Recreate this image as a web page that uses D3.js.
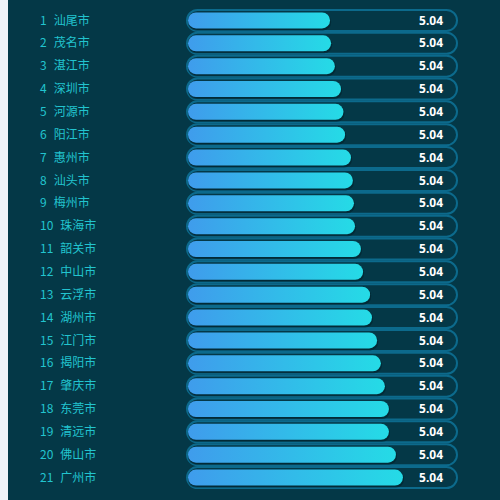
<!DOCTYPE html>
<html><head><meta charset="utf-8">
<script src="https://cdn.jsdelivr.net/npm/d3@7/dist/d3.min.js"></script>
<style>html,body{margin:0;padding:0;background:#f0f2f7;}svg{display:block}</style>
</head><body><svg id="c" width="500" height="500"></svg>
<script>
const cities = ["汕尾市","茂名市","湛江市","深圳市","河源市","阳江市","惠州市","汕头市","梅州市","珠海市","韶关市","中山市","云浮市","湖州市","江门市","揭阳市","肇庆市","东莞市","清远市","佛山市","广州市"];
const values = [52.8,53.2,54.6,56.9,57.8,58.4,60.6,61.3,61.7,62.1,64.3,65.1,67.7,68.4,70.3,71.7,73.2,74.7,74.7,77.3,79.9];
const valueLabels = ["5.04","5.04","5.04","5.04","5.04","5.04","5.04","5.04","5.04","5.04","5.04","5.04","5.04","5.04","5.04","5.04","5.04","5.04","5.04","5.04","5.04"];
const trackMax = 100;

const svg = d3.select("#c");
svg.append("rect").attr("x",8).attr("y",0).attr("width",492).attr("height",500).attr("fill","#043847");

const y = d3.scaleBand().domain(cities).range([9,489]).paddingInner(0).paddingOuter(0);
const x = d3.scaleLinear().domain([0,trackMax]).range([188,457]);

const defs = svg.append("defs");
const grad = defs.append("linearGradient").attr("id","g").attr("x1","0%").attr("x2","100%").attr("y1","0%").attr("y2","0%");
grad.append("stop").attr("offset","0%").attr("stop-color","#3f9cec");
grad.append("stop").attr("offset","100%").attr("stop-color","#25dbe6");

const rows = svg.selectAll("g.row").data(cities).join("g").attr("class","row")
  .attr("transform", d => `translate(0,${y(d)+y.bandwidth()/2})`);

// track
rows.append("rect")
  .attr("x", x(0)-1).attr("y",-10.5).attr("width", x(trackMax)-x(0)+1).attr("height",21)
  .attr("rx",10.5).attr("fill","none").attr("stroke","#0c6a8c").attr("stroke-width",2);

// shadow
rows.append("rect")
  .attr("x", x(0)).attr("y",-7).attr("width",(d,i)=>x(values[i])-x(0)+1).attr("height",17)
  .attr("rx",8).attr("fill","#02212b").attr("opacity",0.6);

// bar
rows.append("rect")
  .attr("x", x(0)).attr("y",-8).attr("width",(d,i)=>x(values[i])-x(0)).attr("height",16)
  .attr("rx",8).attr("fill","url(#g)");

// value labels
rows.append("text")
  .attr("x",443).attr("y",0).attr("dy","0.35em").attr("text-anchor","end")
  .attr("fill","#ffffff").attr("font-size",12).attr("font-weight","bold")
  .attr("font-family","'Noto Sans', 'DejaVu Sans', sans-serif")
  .text((d,i)=>valueLabels[i]);

// rank + name
const lab = rows.append("text")
  .attr("x",40).attr("y",0).attr("dy","0.35em")
  .attr("fill","#22c4cf").attr("font-size",12)
  .attr("font-family","'Noto Sans CJK SC', 'Noto Sans', sans-serif");
lab.append("tspan").text((d,i)=>String(i+1));
lab.append("tspan").attr("dx",7).text(d=>d);
</script>
</body></html>
